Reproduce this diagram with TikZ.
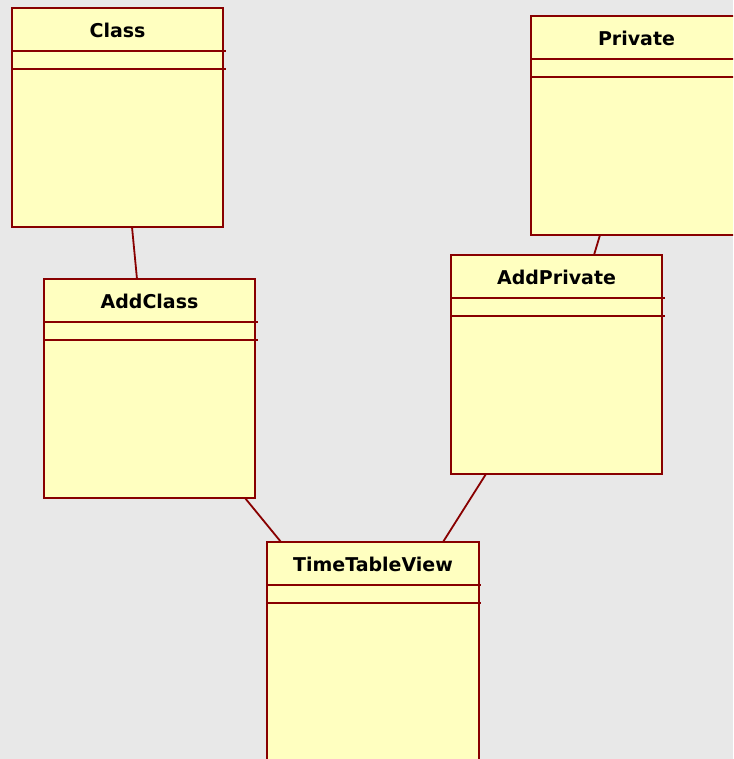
\documentclass[tikz,border=0pt]{standalone}
\usepackage{fontspec}
\setsansfont{DejaVu Sans}
\usetikzlibrary{positioning}
\definecolor{umlred}{RGB}{136,0,0}
\definecolor{umlfill}{RGB}{255,255,192}
\definecolor{umlbg}{RGB}{232,232,232}

\begin{document}
\begin{tikzpicture}[x=1pt, y=-1pt,
		cls/.style={rectangle, draw=umlred, fill=umlfill, line width=1.8pt, anchor=north west, minimum width=211pt, minimum height=219pt, inner sep=0pt, outer sep=0pt},
		clsname/.style={font=\sffamily\bfseries\fontsize{19}{23}\selectfont, inner sep=0pt},
		sep/.style={draw=umlred, line width=1.6pt},
		assoc/.style={draw=umlred, line width=1.8pt}
		]
		
		\useasboundingbox (0,0) rectangle (733,759);
		\fill[umlbg] (0,0) rectangle (733,759);
		\clip (0,0) rectangle (733,759);
		
		% class boxes
		\node[cls] (class) at (12, 8) {};
		\node[cls] (private) at (531, 16) {};
		\node[cls] (addclass) at (44, 279) {};
		\node[cls] (addprivate) at (451, 255) {};
		\node[cls, minimum width=212pt] (ttv) at (267, 542) {};
		
		\foreach \b/\t in {class/Class, private/Private, addclass/AddClass, addprivate/AddPrivate, ttv/TimeTableView}
		\node[clsname] (\b name) at ([yshift=-22pt]\b.north) {\t};
		
		% compartments
		\foreach \b in {class, private, addclass, addprivate, ttv} {
			\draw[sep] ([yshift=-43pt]\b.north west) -- ++(214,0);
			\draw[sep] ([yshift=-61pt]\b.north west) -- ++(214,0);
		}
		
		% associations
		\draw[assoc] ([xshift=14.5pt]class.south) -- ([xshift=-12.5pt]addclass.north);
		\draw[assoc] ([xshift=-36.5pt]private.south) -- ([xshift=37.5pt]addprivate.north);
		\draw[assoc] ([xshift=95.5pt]addclass.south) -- ([xshift=-92pt]ttv.north);
		\draw[assoc] ([xshift=-70.5pt]addprivate.south) -- ([xshift=70pt]ttv.north);
		
		\end{tikzpicture}
\end{document}
